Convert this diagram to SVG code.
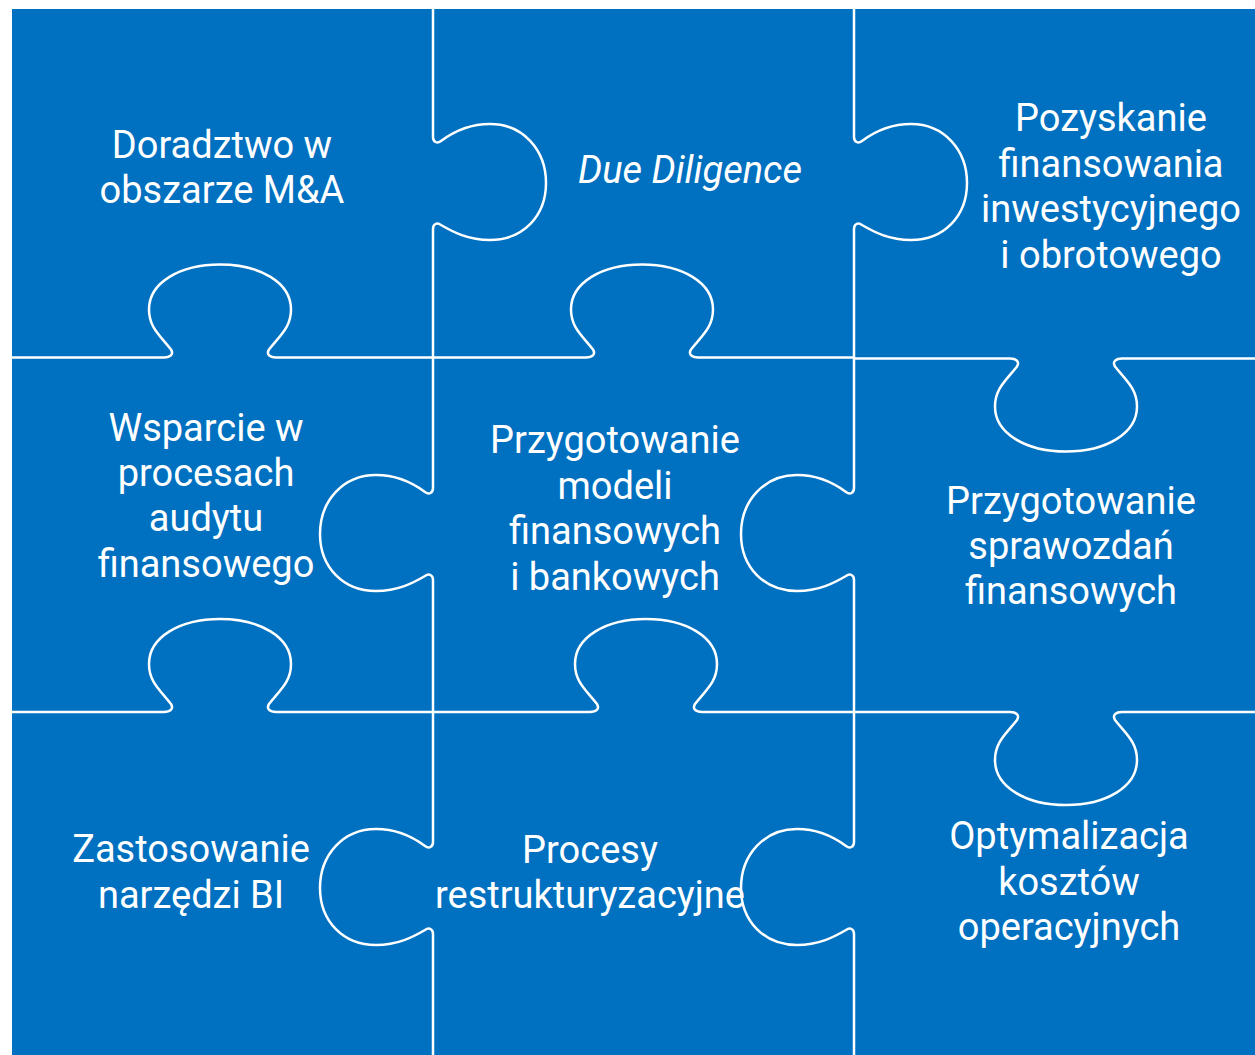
<svg xmlns="http://www.w3.org/2000/svg" width="1255" height="1055" viewBox="0 0 1255 1055">
<style>
.t{font-family:Roboto,"Liberation Sans",sans-serif;font-size:38px;fill:#ffffff;text-anchor:middle}
.i{font-style:italic}
.c{fill:none;stroke:#ffffff;stroke-width:2.5;stroke-linejoin:round}
</style>
<rect x="12" y="9" width="1243" height="1046" fill="#0070C0"/>
<g id="connectors">
<path class="c" d="M 433 9 V 137 c 0 5 4 7 8 4 c 12 -9 27 -17 49 -17 c 33 0 56 26 56 59 c 0 33 -23 57 -56 57 c -22 0 -37 -8 -49 -15 c -4 -3 -8 -1 -8 4 V 488 c 0 5 -4 7 -8 4 c -12 -9 -27 -17 -49 -17 c -33 0 -56 26 -56 59 c 0 33 23 57 56 57 c 22 0 37 -8 49 -15 c 4 -3 8 -1 8 4 V 842 c 0 5 -4 7 -8 4 c -12 -9 -27 -17 -49 -17 c -33 0 -56 26 -56 59 c 0 33 23 57 56 57 c 22 0 37 -8 49 -15 c 4 -3 8 -1 8 4 V 1055"/>
<path class="c" d="M 854 9 V 137 c 0 5 4 7 8 4 c 12 -9 27 -17 49 -17 c 33 0 56 26 56 59 c 0 33 -23 57 -56 57 c -22 0 -37 -8 -49 -15 c -4 -3 -8 -1 -8 4 V 488 c 0 5 -4 7 -8 4 c -12 -9 -27 -17 -49 -17 c -33 0 -56 26 -56 59 c 0 33 23 57 56 57 c 22 0 37 -8 49 -15 c 4 -3 8 -1 8 4 V 842 c 0 5 -4 7 -8 4 c -12 -9 -27 -17 -49 -17 c -33 0 -56 26 -56 59 c 0 33 23 57 56 57 c 22 0 37 -8 49 -15 c 4 -3 8 -1 8 4 V 1055"/>
<path class="c" d="M 12 357.5 H 164 c 6 0 10 -3 7 -8 c -11 -14 -22 -22 -22 -40 c 0 -27 31 -45 71 -45 c 40 0 71 18 71 45 c 0 18 -11 26 -22 40 c -3 5 1 8 7 8 H 586 c 6 0 10 -3 7 -8 c -11 -14 -22 -22 -22 -40 c 0 -27 31 -45 71 -45 c 40 0 71 18 71 45 c 0 18 -11 26 -22 40 c -3 5 1 8 7 8 H 854 V 358.5 H 1010 c 6 0 10 3 7 8 c -11 14 -22 22 -22 40 c 0 27 31 45 71 45 c 40 0 71 -18 71 -45 c 0 -18 -11 -26 -22 -40 c -3 -5 1 -8 7 -8 H 1255"/>
<path class="c" d="M 12 712 H 164 c 6 0 10 -3 7 -8 c -11 -14 -22 -22 -22 -40 c 0 -27 31 -45 71 -45 c 40 0 71 18 71 45 c 0 18 -11 26 -22 40 c -3 5 1 8 7 8 H 590 c 6 0 10 -3 7 -8 c -11 -14 -22 -22 -22 -40 c 0 -27 31 -45 71 -45 c 40 0 71 18 71 45 c 0 18 -11 26 -22 40 c -3 5 1 8 7 8 H 1010 c 6 0 10 3 7 8 c -11 14 -22 22 -22 40 c 0 27 31 45 71 45 c 40 0 71 -18 71 -45 c 0 -18 -11 -26 -22 -40 c -3 -5 1 -8 7 -8 H 1255"/>
</g>
<g id="piece-ma"><text class="t" x="222" y="158">Doradztwo w</text><text class="t" x="222" y="203">obszarze M&amp;A</text></g>
<g id="piece-dd"><text class="t i" x="690" y="183">Due Diligence</text></g>
<g id="piece-financing"><text class="t" x="1111" y="131">Pozyskanie</text><text class="t" x="1111" y="176.5">finansowania</text><text class="t" x="1111" y="222">inwestycyjnego</text><text class="t" x="1111" y="267.5">i obrotowego</text></g>
<g id="piece-audit"><text class="t" x="206" y="441">Wsparcie w</text><text class="t" x="206" y="486">procesach</text><text class="t" x="206" y="531">audytu</text><text class="t" x="206" y="577">finansowego</text></g>
<g id="piece-models"><text class="t" x="615" y="453">Przygotowanie</text><text class="t" x="615" y="499">modeli</text><text class="t" x="615" y="544">finansowych</text><text class="t" x="615" y="590">i bankowych</text></g>
<g id="piece-reports"><text class="t" x="1071" y="514">Przygotowanie</text><text class="t" x="1071" y="559">sprawozdań</text><text class="t" x="1071" y="604">finansowych</text></g>
<g id="piece-bi"><text class="t" x="191" y="862">Zastosowanie</text><text class="t" x="191" y="908">narzędzi BI</text></g>
<g id="piece-restructuring"><text class="t" x="590" y="863">Procesy</text><text class="t" x="590" y="908">restrukturyzacyjne</text></g>
<g id="piece-costs"><text class="t" x="1069" y="849">Optymalizacja</text><text class="t" x="1069" y="895">kosztów</text><text class="t" x="1069" y="940">operacyjnych</text></g>
</svg>
